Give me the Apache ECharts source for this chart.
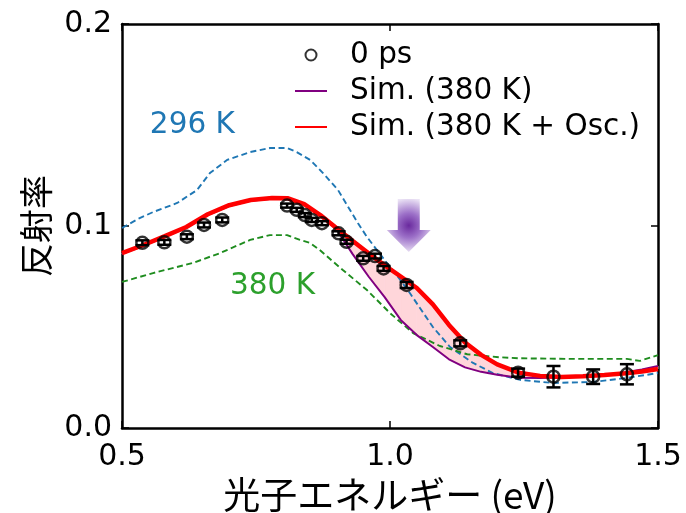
<!DOCTYPE html>
<html>
<head>
<meta charset="utf-8">
<script src="https://cdn.jsdelivr.net/npm/echarts@6/dist/echarts.min.js"></script>
<style>html,body{margin:0;padding:0;background:#fff;}#c{width:686px;height:513px;}</style>
</head>
<body>
<div id="c"></div>
<script>
// ---- data ----
const xSim = [0.50,0.54,0.58,0.62,0.66,0.70,0.74,0.78,0.81,0.84,0.87,0.90,0.93,0.96,0.99,1.02,1.05,1.08,1.11,1.14,1.17,1.20,1.24,1.28,1.32,1.36,1.40,1.44,1.47,1.50];
const simOsc = [0.0866,0.0906,0.0950,0.0995,0.1058,0.1103,0.1129,0.1139,0.1137,0.1108,0.1054,0.0990,0.0927,0.0865,0.0805,0.0750,0.0693,0.0612,0.0510,0.0423,0.0362,0.0315,0.0274,0.0258,0.0253,0.0256,0.0262,0.0271,0.0280,0.0292];
const sim380 = [0.0862,0.0902,0.0946,0.0991,0.1054,0.1099,0.1125,0.1135,0.1134,0.1105,0.1049,0.0985,0.0862,0.0750,0.0648,0.0535,0.0460,0.0401,0.0340,0.0300,0.0278,0.0264,0.0249,0.0248,0.0251,0.0255,0.0262,0.0276,0.0290,0.0307];

const xBlue = [0.500,0.530,0.558,0.603,0.640,0.664,0.696,0.739,0.776,0.808,0.826,0.851,0.875,0.903,0.940,0.957,0.994,1.015,1.037,1.080,1.112,1.155,1.192,1.243,1.304,1.379,1.442,1.500];
const yBlue = [0.0990,0.1035,0.1069,0.1114,0.1178,0.1262,0.1327,0.1366,0.1386,0.1386,0.1366,0.1327,0.1262,0.1178,0.1015,0.0946,0.0817,0.0748,0.0668,0.0500,0.0401,0.0322,0.0272,0.0238,0.0223,0.0228,0.0248,0.0272];

const xGreen = [0.500,0.558,0.632,0.683,0.739,0.776,0.808,0.832,0.851,0.869,0.912,0.957,1.000,1.043,1.093,1.144,1.205,1.243,1.336,1.442,1.466,1.500];
const yGreen = [0.0723,0.0767,0.0817,0.0866,0.0931,0.0955,0.0955,0.0931,0.0916,0.0881,0.0782,0.0683,0.0569,0.0470,0.0406,0.0365,0.0350,0.0345,0.0342,0.0342,0.0332,0.0361];

const xPts = [0.538,0.579,0.621,0.653,0.687,0.808,0.826,0.841,0.854,0.873,0.904,0.919,0.950,0.972,0.988,1.031,1.131,1.239,1.305,1.379,1.442];
const yPts = [0.0917,0.0919,0.0947,0.1005,0.1030,0.1101,0.1080,0.1054,0.1030,0.1014,0.0964,0.0922,0.0840,0.0851,0.0790,0.0708,0.0419,0.0274,0.0254,0.0254,0.0266];
const errPts = [0.0012,0.0012,0.0012,0.0012,0.0012,0.0010,0.0010,0.0010,0.0010,0.0010,0.0010,0.0010,0.0012,0.0012,0.0012,0.0015,0.0015,0.0020,0.0053,0.0036,0.0050];

const xTicks = [0.5, 1.0, 1.5];
const yTicks = [0.0, 0.1, 0.2];

const names = { pts: '0 ps', sim: 'Sim. (380 K)', osc: 'Sim. (380 K + Osc.)' };
const curveLabels = [
  { text: '296 K', x: 0.552, y: 0.150, color: '#1f77b4' },
  { text: '380 K', x: 0.7015, y: 0.0700, color: '#2ca02c' }
];
const arrowAt = { x: 1.035, top: 0.1134, head: 0.098, tip: 0.0871 };

// ---- build ----
const zip = (a, b) => a.map((v, i) => [v, b[i]]);
const fillSegs = xSim.slice(0, -1).map((x, i) => [x, xSim[i + 1], sim380[i], sim380[i + 1], simOsc[i], simOsc[i + 1]]);

const chart = echarts.init(document.getElementById('c'));
const axisLineStyle = { color: '#000', width: 2.5 };
const tickStyle = { color: '#000', width: 1.5 };
const PINK = '#ffd6da';

const option = {
  animation: false,
  backgroundColor: '#fff',
  textStyle: { fontFamily: 'DejaVu Sans' },
  grid: { left: 122, right: 28, top: 24, bottom: 85, containLabel: false, outerBoundsMode: 'none' },
  legend: {
    left: 294, top: 40, orient: 'vertical', padding: 0,
    itemWidth: 32, itemHeight: 11, itemGap: 6,
    textStyle: { fontSize: 29.5, color: '#000', fontFamily: 'DejaVu Sans', padding: [0, 0, 0, 18] },
    data: [
      { name: names.pts, icon: 'circle' },
      { name: names.sim, itemStyle: { opacity: 0 } },
      { name: names.osc, itemStyle: { opacity: 0 } }
    ]
  },
  xAxis: [
    {
      type: 'value', min: xTicks[0], max: xTicks[2], interval: xTicks[1] - xTicks[0], position: 'bottom',
      axisLine: { show: true, onZero: false, lineStyle: axisLineStyle },
      axisTick: { show: true, inside: true, length: 7, lineStyle: tickStyle },
      axisLabel: { fontSize: 30, color: '#000', margin: 14, formatter: v => v.toFixed(1) },
      splitLine: { show: false },
      name: '光子エネルギー (eV)', nameLocation: 'middle', nameGap: 42,
      nameTextStyle: { fontFamily: 'Noto Sans CJK JP', fontSize: 37, color: '#000' }
    },
    {
      type: 'value', min: xTicks[0], max: xTicks[2], interval: xTicks[1] - xTicks[0], position: 'top',
      axisLine: { show: true, onZero: false, lineStyle: axisLineStyle },
      axisTick: { show: true, inside: true, length: 7, lineStyle: tickStyle },
      axisLabel: { show: false }, splitLine: { show: false }
    }
  ],
  yAxis: [
    {
      type: 'value', min: yTicks[0], max: yTicks[2], interval: yTicks[1] - yTicks[0], position: 'left',
      axisLine: { show: true, onZero: false, lineStyle: axisLineStyle },
      axisTick: { show: true, inside: true, length: 7, lineStyle: tickStyle },
      axisLabel: { fontSize: 30, color: '#000', margin: 10, formatter: v => v.toFixed(1) },
      splitLine: { show: false },
      name: '反射率', nameLocation: 'middle', nameGap: 66, nameRotate: 90,
      nameTextStyle: { fontFamily: 'Noto Sans CJK JP', fontSize: 34, color: '#000' }
    },
    {
      type: 'value', min: yTicks[0], max: yTicks[2], interval: yTicks[1] - yTicks[0], position: 'right',
      axisLine: { show: true, onZero: false, lineStyle: axisLineStyle },
      axisTick: { show: true, inside: true, length: 7, lineStyle: tickStyle },
      axisLabel: { show: false }, splitLine: { show: false }
    }
  ],
  series: [
    {
      name: 'pinkfill', type: 'custom', z: 1, silent: true,
      data: fillSegs,
      encode: { x: [0, 1], y: [2, 3, 4, 5] },
      renderItem: function (params, api) {
        const x0 = api.value(0), x1 = api.value(1);
        const a = api.coord([x0, api.value(2)]);
        const b = api.coord([x1, api.value(3)]);
        const c = api.coord([x1, api.value(5)]);
        const d = api.coord([x0, api.value(4)]);
        return {
          type: 'polygon',
          shape: { points: [a, b, c, d] },
          style: { fill: PINK, stroke: PINK, lineWidth: 0.8 }
        };
      }
    },
    {
      name: '296K', type: 'line', z: 3, data: zip(xBlue, yBlue), symbol: 'none',
      lineStyle: { color: '#1f77b4', width: 1.9, type: [6, 3.5] }
    },
    {
      name: '380K', type: 'line', z: 3, data: zip(xGreen, yGreen), symbol: 'none',
      lineStyle: { color: '#1e8c1e', width: 1.9, type: [6, 3.5] }
    },
    {
      name: names.sim, type: 'line', z: 4,
      data: zip(xSim, sim380), symbol: 'none',
      lineStyle: { color: '#800080', width: 2 }, itemStyle: { color: '#800080' }
    },
    {
      name: names.osc, type: 'line', z: 5, data: zip(xSim, simOsc), symbol: 'none',
      lineStyle: { color: '#ff0000', width: 4.5 }, itemStyle: { color: '#ff0000' }
    },
    {
      name: 'err', type: 'custom', z: 6, silent: true,
      data: xPts.map((x, i) => [x, yPts[i], errPts[i]]),
      renderItem: function (params, api) {
        const x = api.value(0), y = api.value(1), e = api.value(2);
        const hi = api.coord([x, y + e]);
        const lo = api.coord([x, y - e]);
        const cw = 7;
        const st = { stroke: '#000', lineWidth: 2.5 };
        return {
          type: 'group',
          children: [
            { type: 'line', shape: { x1: hi[0], y1: hi[1], x2: lo[0], y2: lo[1] }, style: st },
            { type: 'line', shape: { x1: hi[0] - cw, y1: hi[1], x2: hi[0] + cw, y2: hi[1] }, style: st },
            { type: 'line', shape: { x1: lo[0] - cw, y1: lo[1], x2: lo[0] + cw, y2: lo[1] }, style: st }
          ]
        };
      }
    },
    {
      name: names.pts, type: 'scatter', z: 7, data: zip(xPts, yPts),
      symbol: 'circle', symbolSize: 12,
      itemStyle: { color: 'rgba(255,255,255,0)', borderColor: '#000', borderWidth: 2.5 }
    }
  ]
};
chart.setOption(option);

// annotations positioned via the chart's own scales
const toPx = (x, y) => chart.convertToPixel({ xAxisIndex: 0, yAxisIndex: 0 }, [x, y]);
const graphics = curveLabels.map(l => {
  const p = toPx(l.x, l.y);
  return {
    type: 'text', x: p[0], y: p[1], z: 10,
    style: { text: l.text, fill: l.color, fontSize: 29.5, fontFamily: 'DejaVu Sans', verticalAlign: 'middle', align: 'left' }
  };
});
const pTop = toPx(arrowAt.x, arrowAt.top);
const pHead = toPx(arrowAt.x, arrowAt.head);
const pTip = toPx(arrowAt.x, arrowAt.tip);
const sw = 11, hw = 22, cx = pTop[0];
graphics.push({
  type: 'polygon', z: 10,
  shape: { points: [
    [cx - sw, pTop[1]], [cx + sw, pTop[1]], [cx + sw, pHead[1]], [cx + hw, pHead[1]],
    [cx, pTip[1]], [cx - hw, pHead[1]], [cx - sw, pHead[1]]
  ] },
  style: {
    fill: new echarts.graphic.RadialGradient(0.5, 0.5, 0.62, [
      { offset: 0, color: '#6a2a9e' },
      { offset: 0.45, color: '#9c70c8' },
      { offset: 1, color: '#ebe3f5' }
    ])
  }
});
chart.setOption({ graphic: graphics });
</script>
</body>
</html>
